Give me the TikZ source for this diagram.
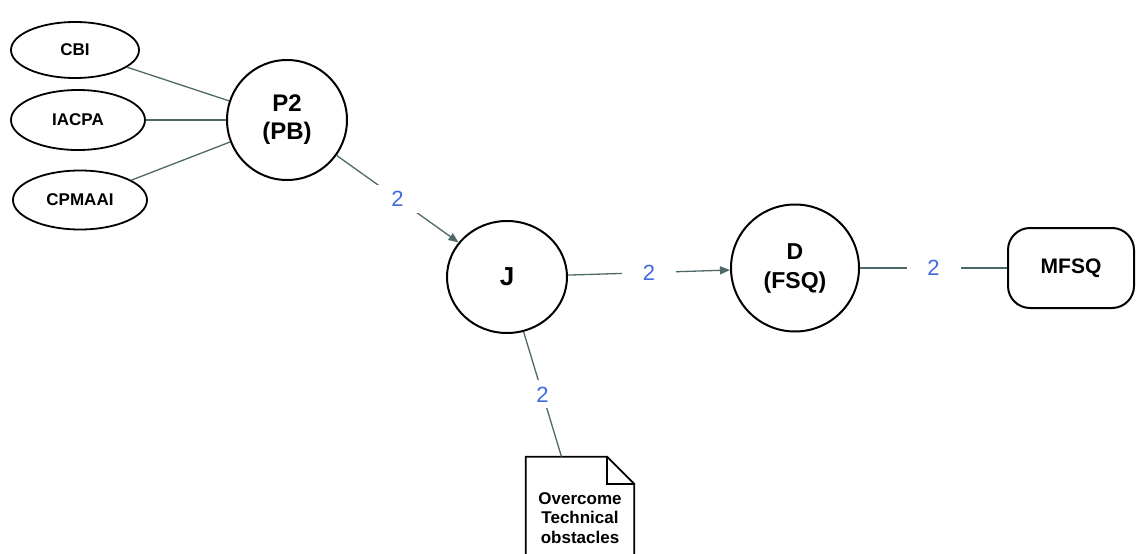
\documentclass[tikz,border=0pt]{standalone}
\usepackage{fontspec}
\setmainfont{Liberation Sans}
\usetikzlibrary{shapes.geometric,arrows.meta}
\definecolor{edgegray}{RGB}{78,104,104}
\definecolor{labelblue}{RGB}{66,106,224}
\begin{document}
\begin{tikzpicture}[x=1pt,y=-1pt,
  oval/.style={ellipse,draw=black,line width=1.8pt,inner sep=0pt,
    font=\fontsize{17}{20}\selectfont\bfseries},
  hub/.style={ellipse,draw=black,line width=2pt,inner sep=0pt,align=center},
  link/.style={draw=edgegray,line width=1.3pt},
  arr/.style={-{Triangle[length=10pt,width=8pt]}},
  num/.style={fill=white,text=labelblue,font=\fontsize{22}{24}\selectfont,
    minimum width=54pt,minimum height=28pt,inner sep=0pt}
]
\clip (0,0) rectangle (1136,554);

% source ellipses
\node[oval,minimum width=128pt,minimum height=56pt] (cbi) at (75,50) {CBI};
\node[oval,minimum width=134pt,minimum height=60pt] (iacpa) at (78,120) {IACPA};
\node[oval,minimum width=134pt,minimum height=59pt] (cpmaai) at (80,200) {CPMAAI};

% circular nodes
\node[hub,minimum width=120pt,minimum height=120pt,
  font=\fontsize{24}{28}\selectfont\bfseries] (p2) at (287,120) {P2\\(PB)};
\node[hub,minimum width=120pt,minimum height=112pt,
  font=\fontsize{26}{30}\selectfont\bfseries] (j) at (507,277) {J};
\node[hub,minimum width=128pt,minimum height=127pt,
  font=\fontsize{23}{29}\selectfont\bfseries] (d) at (795,268) {D\\(FSQ)};

% rounded terminal box
\node[draw=black,line width=2pt,rounded corners=22pt,minimum width=126pt,
  minimum height=80pt,inner sep=0pt,font=\fontsize{21}{24}\selectfont\bfseries]
  (mfsq) at (1071,268) {MFSQ};

% note with folded corner
\node[minimum width=108pt,minimum height=122pt,inner sep=0pt,align=center,
  font=\fontsize{17}{19.5}\selectfont\bfseries] (doc) at (580,518)
  {Overcome\\Technical\\obstacles};
\draw[line width=1.8pt,line join=miter]
  (doc.north west) -- ([xshift=-27pt]doc.north east)
  -- ([yshift=-27pt]doc.north east) -- (doc.south east)
  -- (doc.south west) -- cycle;
\draw[line width=1.8pt,line join=miter]
  ([xshift=-27pt]doc.north east) -- ([xshift=-27pt,yshift=-27pt]doc.north east)
  -- ([yshift=-27pt]doc.north east);

% connectors
\draw[link] (cbi) -- (p2);
\draw[link] (iacpa) -- (p2);
\draw[link] (cpmaai) -- (p2);
\draw[link,arr] (p2) -- node[num]{2} (j);
\draw[link,arr] (j) -- node[num]{2} (d);
\draw[link] (d) -- node[num]{2} (mfsq);
\draw[link] (j) -- node[num]{2} (doc);
\end{tikzpicture}
\end{document}
